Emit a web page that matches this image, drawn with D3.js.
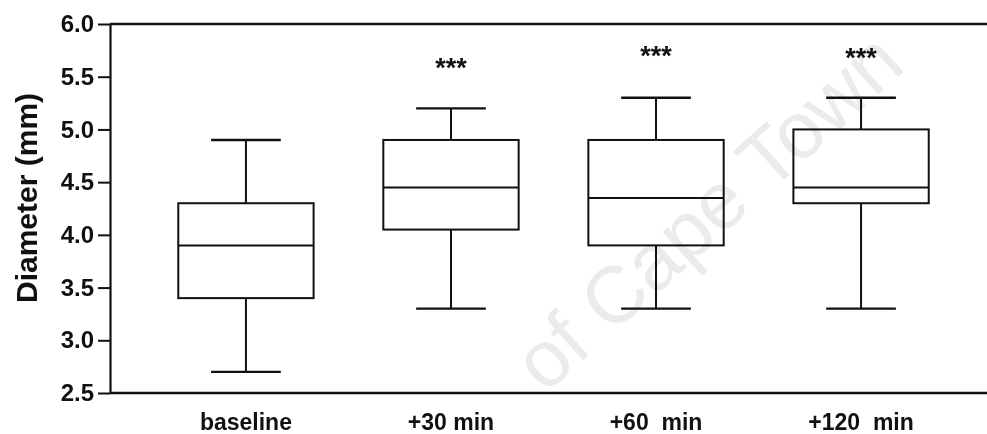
<!DOCTYPE html>
<html>
<head>
<meta charset="utf-8">
<script src="https://cdn.jsdelivr.net/npm/d3@7"></script>
<style>
  body { margin: 0; background: #fff; }
  svg { display: block; font-family: "Liberation Sans", Arial, sans-serif; }
</style>
</head>
<body>
<svg id="chart" width="987" height="434"></svg>
<script>
// groups along the x axis
const groups = ["baseline", "+30  min", "+60  min", "+120  min"];
const groupLabels = ["baseline", "+30 min", "+60  min", "+120  min"];
// box plot stats, mm
const whiskerLow = [2.7, 3.3, 3.3, 3.3];
const q1 = [3.4, 4.05, 3.9, 4.3];
const median = [3.9, 4.45, 4.35, 4.45];
const q3 = [4.3, 4.9, 4.9, 5.0];
const whiskerHigh = [4.9, 5.2, 5.3, 5.3];
// significance markers (level of the star centre)
const stars = ["", "***", "***", "***"];
const starLevel = [null, 5.64, 5.75, 5.73];
const yTicks = [2.5, 3.0, 3.5, 4.0, 4.5, 5.0, 5.5, 6.0];

const svg = d3.select("#chart");
const ink = "#111";

const x = d3.scalePoint()
  .domain(groups)
  .range([110, 997])
  .padding(0.663);

const y = d3.scaleLinear()
  .domain([2.5, 6.0])
  .range([393, 24]);

const step = x.step();
const boxW = step * 0.66;
const capW = step * 0.34;

// left axis
const yAxis = d3.axisLeft(y)
  .tickValues(yTicks)
  .tickFormat(d3.format(".1f"))
  .tickSize(12)
  .tickSizeOuter(0)
  .tickPadding(4);

const gy = svg.append("g")
  .attr("transform", "translate(110,0)")
  .call(yAxis);
gy.select(".domain").attr("stroke", ink).attr("stroke-width", 2.2);
gy.selectAll(".tick line").attr("stroke", ink).attr("stroke-width", 2);
gy.selectAll(".tick text")
  .attr("fill", ink)
  .attr("font-size", 24)
  .attr("font-weight", "bold");

// top and bottom frame lines
svg.append("line")
  .attr("x1", 110).attr("x2", 987)
  .attr("y1", y(6.0)).attr("y2", y(6.0))
  .attr("stroke", ink).attr("stroke-width", 2.4);
svg.append("line")
  .attr("x1", 110).attr("x2", 987)
  .attr("y1", y(2.5)).attr("y2", y(2.5))
  .attr("stroke", ink).attr("stroke-width", 2.4);

// x labels
svg.append("g").selectAll("text")
  .data(groups)
  .join("text")
  .attr("x", d => x(d))
  .attr("y", 430)
  .attr("text-anchor", "middle")
  .attr("font-size", 23)
  .attr("font-weight", "bold")
  .attr("fill", ink)
  .style("white-space", "pre")
  .text((d, i) => groupLabels[i]);

// y title
svg.append("text")
  .attr("transform", "translate(37," + y(4.35) + ") rotate(-90)")
  .attr("text-anchor", "middle")
  .attr("font-size", 30)
  .attr("font-weight", "bold")
  .attr("fill", ink)
  .text("Diameter (mm)");

// boxes
const box = svg.append("g")
  .attr("fill", "none")
  .attr("stroke", ink)
  .attr("stroke-width", 2)
  .selectAll("g")
  .data(groups)
  .join("g");

// whisker stems
box.append("line")
  .attr("x1", d => x(d)).attr("x2", d => x(d))
  .attr("y1", (d, i) => y(whiskerHigh[i]))
  .attr("y2", (d, i) => y(q3[i]));
box.append("line")
  .attr("x1", d => x(d)).attr("x2", d => x(d))
  .attr("y1", (d, i) => y(q1[i]))
  .attr("y2", (d, i) => y(whiskerLow[i]));

// caps
box.append("line")
  .attr("x1", d => x(d) - capW / 2).attr("x2", d => x(d) + capW / 2)
  .attr("y1", (d, i) => y(whiskerHigh[i]))
  .attr("y2", (d, i) => y(whiskerHigh[i]))
  .attr("stroke-width", 2.4);
box.append("line")
  .attr("x1", d => x(d) - capW / 2).attr("x2", d => x(d) + capW / 2)
  .attr("y1", (d, i) => y(whiskerLow[i]))
  .attr("y2", (d, i) => y(whiskerLow[i]))
  .attr("stroke-width", 2.4);

// box body
box.append("rect")
  .attr("x", d => x(d) - boxW / 2)
  .attr("width", boxW)
  .attr("y", (d, i) => y(q3[i]))
  .attr("height", (d, i) => y(q1[i]) - y(q3[i]))
  .attr("fill", "#fff");

// median
box.append("line")
  .attr("x1", d => x(d) - boxW / 2).attr("x2", d => x(d) + boxW / 2)
  .attr("y1", (d, i) => y(median[i]))
  .attr("y2", (d, i) => y(median[i]));

// stars
svg.append("g").selectAll("text")
  .data(groups.filter((d, i) => stars[i]))
  .join("text")
  .attr("x", d => x(d))
  .attr("y", d => y(starLevel[groups.indexOf(d)]) + 15)
  .attr("text-anchor", "middle")
  .attr("font-size", 27)
  .attr("font-weight", "bold")
  .attr("fill", ink)
  .text(d => stars[groups.indexOf(d)]);

// watermark, multiplied so the black lines stay black
svg.append("text")
  .attr("transform", "translate(712,216) rotate(-42)")
  .attr("text-anchor", "middle")
  .attr("dominant-baseline", "middle")
  .attr("font-size", 80)
  .attr("fill", "#ebebeb")
  .style("mix-blend-mode", "multiply")
  .text("of Cape Town");
</script>
</body>
</html>
